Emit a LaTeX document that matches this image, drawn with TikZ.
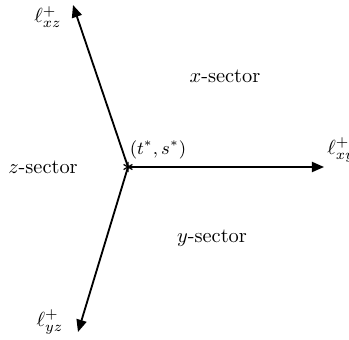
\documentclass[tikz,border=0pt]{standalone}
\usetikzlibrary{arrows.meta,plotmarks}
\begin{document}
\begin{tikzpicture}[x=0.49pt,y=-0.49pt,
  ray/.style={line width=0.9pt,-{Triangle[length=6pt,width=5pt]}},
  lbl/.style={inner sep=0pt}]
\useasboundingbox (0,0) rectangle (349,339);
\coordinate (c) at (128,167);
\coordinate (txz) at (73,5);
\coordinate (txy) at (324,167);
\coordinate (tyz) at (78,332);
\draw[ray] (c) -- (txz);
\draw[ray] (c) -- (txy);
\draw[ray] (c) -- (tyz);
\draw[line width=0.6pt] plot[mark=asterisk,mark size=2.5pt] coordinates {(c)};
\node[lbl] (lxz) at (48,17) {$\ell^+_{xz}$};
\node[lbl,anchor=west] (lxy) at (327,150) {$\ell^+_{xy}$};
\node[lbl] (lyz) at (50,322) {$\ell^+_{yz}$};
\node[lbl,font=\small] (pt) at (158,150) {$(t^*,s^*)$};
\node[lbl] (xs) at (225,76) {$x$-sector};
\node[lbl] (zs) at (43,167) {$z$-sector};
\node[lbl] (ys) at (212,238) {$y$-sector};
\end{tikzpicture}
\end{document}
